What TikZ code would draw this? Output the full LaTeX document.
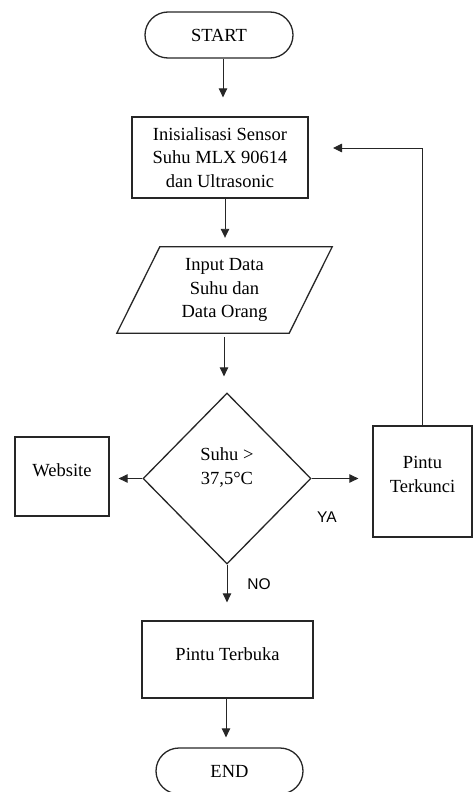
\documentclass[tikz,border=0pt]{standalone}
\usepackage{fontspec}
\setmainfont{Liberation Serif}
\newfontfamily\labfont{Liberation Sans}
\usetikzlibrary{arrows.meta,shapes.geometric,calc}
\begin{document}
\begin{tikzpicture}[x=1pt,y=-1pt,
  every node/.style={font=\fontsize{18.5}{23.5}\selectfont, text=black},
  outline/.style={draw=black!85, line width=1.3pt},
  box/.style={outline, rectangle, inner sep=0pt},
  term/.style={outline, rectangle, rounded corners=23pt, minimum width=148pt, minimum height=46pt, inner sep=0pt},
  arr/.style={draw=black!85, -{Triangle[length=9pt,width=8.5pt]}, line width=0.9pt},
  lab/.style={font=\labfont\fontsize{15.5}{18}\selectfont}]
\useasboundingbox (0,0) rectangle (474,792);

\node[term] (start) at (219,35) {START};
\node[box, minimum width=176pt, minimum height=81pt, align=center] (init) at (220,157.5) {Inisialisasi Sensor\\Suhu MLX 90614\\dan Ultrasonic};
\node[align=center, minimum width=172pt, minimum height=86pt, inner sep=0pt] (input) at (224.5,290) {Input Data\\Suhu dan\\Data Orang};
\draw[outline] ($(input.north west)+(21.5,0)$) -- ($(input.north east)+(21.5,0)$) -- ($(input.south east)+(-21.5,0)$) -- ($(input.south west)+(-21.5,0)$) -- cycle;
\node[outline, diamond, minimum width=168pt, minimum height=171pt, inner sep=0pt,
  label={[align=center, yshift=11pt]center:Suhu >\\37,5°C}] (dec) at (227,478.5) {};
\node[box, minimum width=94pt, minimum height=79pt, label={[yshift=6.5pt]center:Website}] (web) at (62,476.5) {};
\node[box, minimum width=99pt, minimum height=111pt, label={[align=center, yshift=7pt]center:Pintu\\Terkunci}] (terk) at (422.5,481.5) {};
\node[box, minimum width=171pt, minimum height=77pt, label={[yshift=5.5pt]center:Pintu Terbuka}] (terb) at (227.5,659.5) {};
\node[term, minimum width=147pt] (end) at (229.5,771) {END};

\node[lab] (ya) at (327,517) {YA};
\node[lab] (no) at (259,584) {NO};

\draw[arr, shorten >=19pt] ([xshift=4pt]start.south) -- ([xshift=4pt]start.south |- init.north);
\draw[arr, shorten >=9pt] ([xshift=5pt]init.south) -- ([xshift=5pt]init.south |- input.north);
\draw[arr, shorten <=4pt, shorten >=16pt] ([xshift=-0.5pt]input.south) -- ([xshift=-0.5pt]input.south |- dec.north);
\draw[arr, shorten >=18pt] (dec.south) -- (dec.south |- terb.north);
\draw[arr, shorten >=10pt] ([xshift=-1.5pt]terb.south) -- ([xshift=-1.5pt]terb.south |- end.north);
\draw[arr, shorten >=14pt] (dec.east) -- (dec.east -| terk.west);
\draw[arr, shorten >=9pt] (dec.west) -- (dec.west -| web.east);
\coordinate (fbtip) at (333,148);
\draw[arr] (terk.north) |- (fbtip);
\end{tikzpicture}
\end{document}
